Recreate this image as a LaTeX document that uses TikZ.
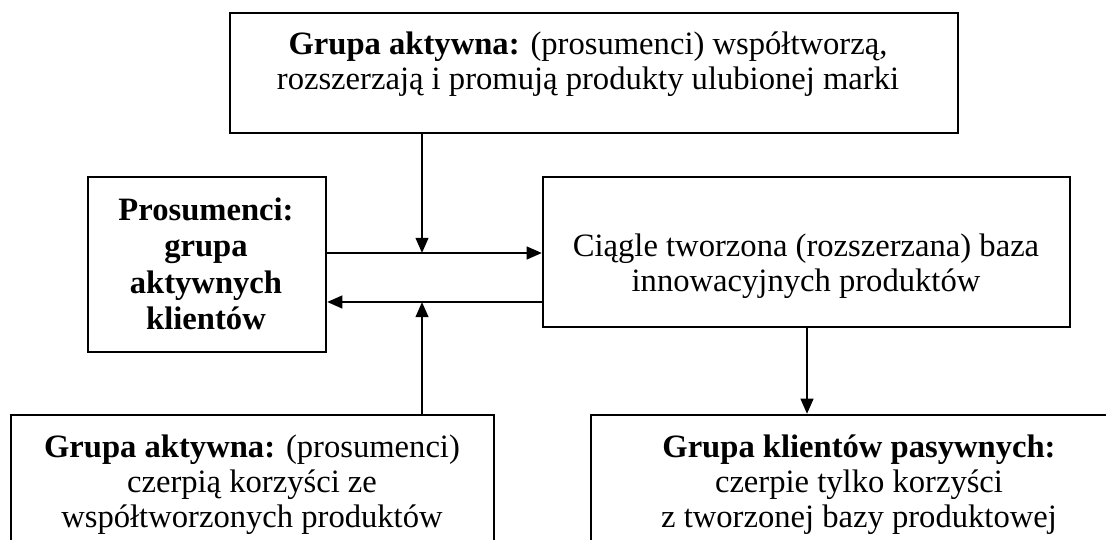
\documentclass[tikz,border=0pt]{standalone}
\usepackage{fontspec}
\setmainfont{Liberation Serif}
\usetikzlibrary{arrows.meta,fit}
\begin{document}
\begin{tikzpicture}[x=0.394pt,y=-0.394pt,
  box/.style={draw=black,line width=0.9pt,inner sep=0pt,fill=none},
  txt/.style={align=center,inner sep=0pt,font=\fontsize{12.85}{13.8}\selectfont},
  conn/.style={line width=0.9pt,-{Triangle[length=6pt,width=5pt]}}]
\useasboundingbox (0,0) rectangle (1106,540);
\clip (0,0) rectangle (1106,540);
% boxes
\node[box,fit={(230,13) (958,133)}] (top) {};
\node[box,fit={(88,177) (326,352)}] (left) {};
\node[box,fit={(543,177) (1070,327)}] (mid) {};
\node[box,fit={(11,415) (494,560)}] (bl) {};
\node[box,fit={(591,415) (1127,560)}] (br) {};
% texts
\node[txt] (toptxt) at (588,64) {\textbf{Grupa aktywna:} (prosumenci) współtworzą,\\rozszerzają i promują produkty ulubionej marki};
\node[txt,font=\fontsize{12.85}{14.4}\selectfont] (lefttxt) at (206,264) {\textbf{Prosumenci:}\\\textbf{grupa}\\\textbf{aktywnych}\\\textbf{klientów}};
\node[txt] (midtxt) at (806,266) {Ciągle tworzona (rozszerzana) baza\\innowacyjnych produktów};
\node[txt] (bltxt) at (252,485) {\textbf{Grupa aktywna:} (prosumenci)\\czerpią korzyści ze\\współtworzonych produktów};
\node[txt] (brtxt) at (859,485) {\textbf{Grupa klientów pasywnych:}\\czerpie tylko korzyści\\z tworzonej bazy produktowej};
% connector anchor points
\coordinate (j1) at (422,253);
\coordinate (j2) at (422,302);
% connectors
\draw[conn] (left.east |- j1) -- (mid.west |- j1);
\draw[conn] (mid.west |- j2) -- (left.east |- j2);
\draw[conn] (top.south -| j1) -- (j1);
\draw[conn] (bl.north -| j2) -- (j2);
\draw[conn] (mid.south -| 807,0) -- (br.north -| 807,0);
\end{tikzpicture}
\end{document}
